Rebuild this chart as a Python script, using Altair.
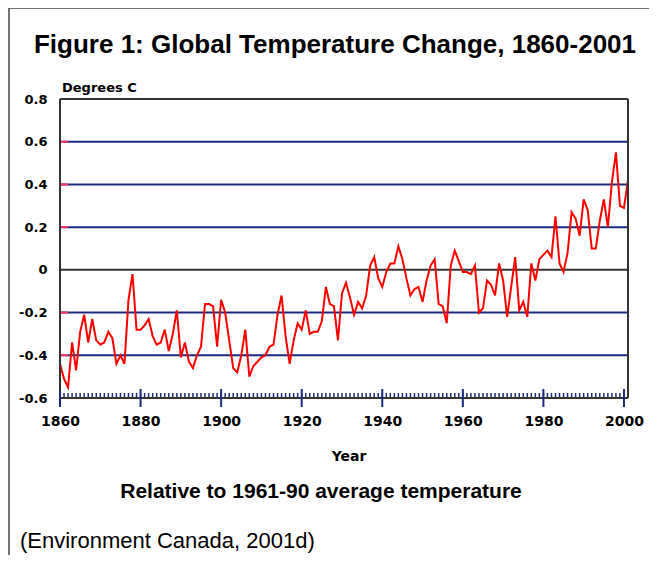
import altair as alt
import pandas as pd

years = list(range(1860, 2002))
temps = [
    -0.44, -0.51, -0.55, -0.34, -0.47, -0.29, -0.21, -0.34, -0.23, -0.33,
    -0.35, -0.34, -0.29, -0.32, -0.44, -0.40, -0.44, -0.14, -0.02, -0.28,
    -0.28, -0.26, -0.23, -0.31, -0.35, -0.34, -0.28, -0.38, -0.30, -0.19,
    -0.41, -0.34, -0.43, -0.46, -0.40, -0.36, -0.16, -0.16, -0.17, -0.36,
    -0.14, -0.20, -0.33, -0.46, -0.48, -0.40, -0.28, -0.50, -0.45, -0.43,
    -0.41, -0.40, -0.36, -0.35, -0.21, -0.12, -0.31, -0.44, -0.33, -0.25,
    -0.28, -0.19, -0.30, -0.29, -0.29, -0.24, -0.08, -0.16, -0.17, -0.33,
    -0.11, -0.06, -0.13, -0.21, -0.15, -0.18, -0.12, 0.02, 0.06, -0.04,
    -0.08, -0.01, 0.03, 0.03, 0.11, 0.05, -0.04, -0.12, -0.09, -0.08,
    -0.15, -0.05, 0.02, 0.05, -0.16, -0.17, -0.25, 0.02, 0.09, 0.04,
    -0.01, -0.01, -0.02, 0.02, -0.20, -0.18, -0.05, -0.07, -0.12, 0.03,
    -0.05, -0.22, -0.08, 0.06, -0.19, -0.15, -0.22, 0.03, -0.05, 0.05,
    0.07, 0.09, 0.06, 0.25, 0.03, -0.01, 0.08, 0.27, 0.24, 0.16,
    0.33, 0.28, 0.10, 0.10, 0.23, 0.33, 0.20, 0.41, 0.55, 0.30,
    0.29, 0.42,
]
x_ticks = [1860, 1880, 1900, 1920, 1940, 1960, 1980, 2000]
y_ticks = [-0.6, -0.4, -0.2, 0, 0.2, 0.4, 0.6, 0.8]
grid_vals = [0.6, 0.4, 0.2, -0.2, -0.4]
zero_val = [0]

title_text = "Figure 1: Global Temperature Change, 1860-2001"
y_title = "Degrees C"
x_title = "Year"
subtitle = "Relative to 1961-90 average temperature"
source = "(Environment Canada, 2001d)"

W, H = 568, 299
NAVY = "#1b2a80"
DARK = "#333333"
BOLD_FONT = "DejaVu Sans"

df = pd.DataFrame({"year": years, "temp": temps})
xs = alt.Scale(domain=[1860, 2001], nice=False, zero=False)
ys = alt.Scale(domain=[-0.6, 0.8], nice=False, zero=False)
one = alt.Data(values=[{}])

line = alt.Chart(df).mark_line(color="#ff0000", strokeWidth=2).encode(
    x=alt.X("year:Q", scale=xs,
            axis=alt.Axis(values=x_ticks, format="d", title=None, grid=False,
                          ticks=False, domain=False, labelFont=BOLD_FONT,
                          labelFontWeight="bold", labelFontSize=14,
                          labelColor="#000", labelPadding=16,
                          labelFlush=False, labelOverlap=False)),
    y=alt.Y("temp:Q", scale=ys,
            axis=alt.Axis(values=y_ticks, title=None, grid=False, ticks=False,
                          domain=False, labelFont=BOLD_FONT,
                          labelFontWeight="bold", labelFontSize=13,
                          labelColor="#000", labelPadding=13,
                          labelFlush=False, labelOverlap=False,
                          labelExpr="datum.value == 0 ? '0' : toString(round(datum.value*10)/10)")),
)

grid = alt.Chart(pd.DataFrame({"v": grid_vals})).mark_rule(
    color=NAVY, strokeWidth=2).encode(y=alt.Y("v:Q", scale=ys))
pink = alt.Chart(pd.DataFrame({"v": grid_vals})).mark_rule(
    color="#ff3366", strokeWidth=2).encode(
    y=alt.Y("v:Q", scale=ys), x=alt.value(0), x2=alt.value(8))
zero = alt.Chart(pd.DataFrame({"v": zero_val})).mark_rule(
    color=DARK, strokeWidth=2).encode(y=alt.Y("v:Q", scale=ys))

minor = alt.Chart(pd.DataFrame({"yr": years})).mark_rule(
    color=NAVY, strokeWidth=1.5).encode(
    x=alt.X("yr:Q", scale=xs), y=alt.value(H - 1), y2=alt.value(H - 5))
major = alt.Chart(pd.DataFrame({"yr": x_ticks})).mark_rule(
    color=NAVY, strokeWidth=2).encode(
    x=alt.X("yr:Q", scale=xs), y=alt.value(H - 9), y2=alt.value(H + 9))

frame_top = alt.Chart(one).mark_rule(color=DARK, strokeWidth=2).encode(
    x=alt.value(0), x2=alt.value(W), y=alt.value(0))
frame_bottom = alt.Chart(one).mark_rule(color=DARK, strokeWidth=2).encode(
    x=alt.value(0), x2=alt.value(W), y=alt.value(H))
frame_left = alt.Chart(one).mark_rule(color=DARK, strokeWidth=2).encode(
    x=alt.value(0), y=alt.value(0), y2=alt.value(H))
frame_right = alt.Chart(one).mark_rule(color=DARK, strokeWidth=2).encode(
    x=alt.value(W), y=alt.value(0), y2=alt.value(H))


def txt(text, x, y, size, font, weight="normal", align="center"):
    return alt.Chart(one).mark_text(
        text=text, fontSize=size, font=font, fontWeight=weight,
        align=align, baseline="middle", color="#000").encode(
        x=alt.value(x), y=alt.value(y))


texts = [
    txt(title_text, 275, -54, 26, "Liberation Sans", "bold"),
    txt(y_title, 2, -11, 13, BOLD_FONT, "bold", "left"),
    txt(x_title, 289, 358, 14, BOLD_FONT, "bold"),
    txt(subtitle, 261, 393, 21, "Liberation Sans", "bold"),
    txt(source, -40, 442, 22, "Liberation Sans", "normal", "left"),
]

border_left = alt.Chart(one).mark_rule(color="#444", strokeWidth=1.5).encode(
    x=alt.value(-51), y=alt.value(-91), y2=alt.value(460))
border_top = alt.Chart(one).mark_rule(color="#444", strokeWidth=1.5).encode(
    x=alt.value(-51), x2=alt.value(600), y=alt.value(-91))

chart = alt.layer(
    grid, pink, zero, minor, line, frame_top, frame_bottom, frame_left,
    frame_right, major, border_left, border_top, *texts
).properties(
    width=W, height=H,
    autosize=alt.AutoSizeParams(type="none"),
    padding={"left": 52, "top": 91, "right": 21, "bottom": 157},
).configure_view(stroke=None).configure(background="white")

chart.save("out.html", embed_options={"renderer": "svg", "actions": False})
